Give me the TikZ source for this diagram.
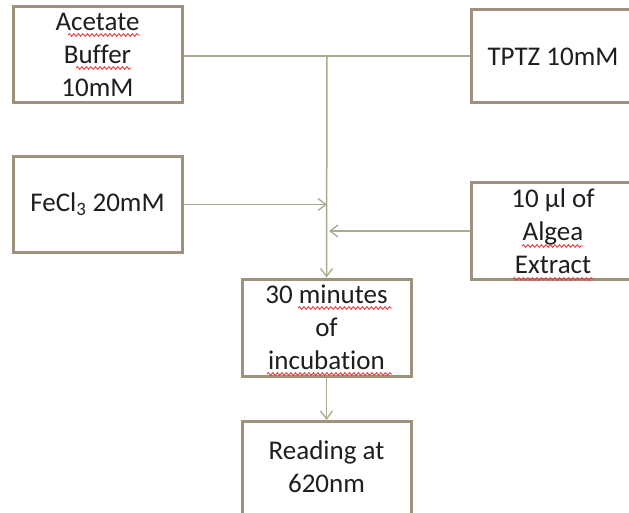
\documentclass[tikz,border=0pt]{standalone}
\usepackage{fontspec}
\setmainfont{Carlito}[Ligatures={NoCommon}]
\usetikzlibrary{arrows.meta,decorations.pathmorphing}
\definecolor{boxborder}{RGB}{158,145,125}
\definecolor{conn}{RGB}{172,170,140}
\definecolor{txtcol}{RGB}{30,30,30}
\definecolor{spell}{RGB}{235,60,60}
\tikzset{
  stepbox/.style={draw=boxborder, line width=3pt, fill=white, inner sep=0pt,
    align=center, text=txtcol, font=\fontsize{27}{33}\selectfont},
  txt/.style={inner sep=0pt, align=center, text=txtcol, font=\fontsize{27}{33}\selectfont},
  conline/.style={draw=conn, line width=1.5pt},
  conarrow/.style={conline, -{Straight Barb[length=8pt,width=12pt,line width=1.3pt]}},
  squig/.style={draw=spell, line width=0.9pt, decorate,
    decoration={snake, amplitude=1.3pt, segment length=4.5pt}}
}
\begin{document}
\begin{tikzpicture}[x=1pt,y=-1pt]
\useasboundingbox (0,0) rectangle (629,513);
\clip (0,0) rectangle (629,513);
\fill[white] (0,0) rectangle (629,513);

\coordinate (top) at (327,56);

\node[stepbox, minimum width=169, minimum height=96] (acetate) at (97.5,55) {Acetate\\Buffer\\10mM};
\node[stepbox, minimum width=169, minimum height=95] (fecl) at (97.5,204.5) {FeCl\textsubscript{3} 20mM};
\node[stepbox, minimum width=164, minimum height=93] (tptz) at (553,56.5) {TPTZ 10mM};
\node[stepbox, minimum width=164, minimum height=96] (algea) at (553,231) {10 µl of\\Algea\\Extract};
\node[stepbox, minimum width=169, minimum height=97] (incub) at (326.5,327.5) {30 minutes\\of\\incubation};
\node[stepbox, minimum width=169, minimum height=110, anchor=north] (reading) at (326.5,420) {};
\node[txt] (readingtxt) at (326.5,467) {Reading at\\620nm};

\draw[conline] (acetate.east |- top) -- (tptz.west |- top);
\draw[conarrow] (top) -- (incub.north);
\draw[conarrow] (fecl.east) -- (fecl.east -| top);
\draw[conarrow] (algea.west) -- ([xshift=2pt]algea.west -| top);
\draw[conarrow] (incub.south) -- (reading.north);

% spell-check underlines
\draw[squig] (68,35) -- (140,35);
\draw[squig] (76,68) -- (131,68);
\draw[squig] (522,246) -- (583,246);
\draw[squig] (513,279) -- (593,279);
\draw[squig] (298,308) -- (392,308);
\draw[squig] (267,374) -- (392,374);
\end{tikzpicture}
\end{document}
